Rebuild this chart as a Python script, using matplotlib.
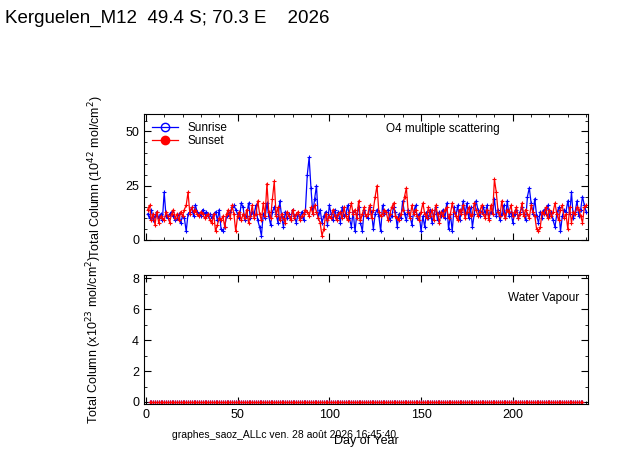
import numpy as np
import matplotlib.pyplot as plt
from matplotlib.lines import Line2D
from matplotlib.ticker import MultipleLocator

plt.rcParams['font.family'] = ['Liberation Sans', 'DejaVu Sans']

days = np.arange(1, 241)

sunrise_o4 = [
    12, 10, 14, 9, 11, 13, 10, 12, 9, 22, 11, 10, 12, 13, 11, 9, 10, 12, 8, 11,
    10, 4, 12, 13, 15, 11, 16, 13, 12, 11, 14, 12, 13, 11, 12, 10, 12, 13, 9, 14,
    5, 4, 6, 11, 12, 13, 15, 16, 14, 12, 10, 17, 15, 9, 11, 17, 10, 13, 12, 16,
    9, 6, 2, 12, 10, 17, 11, 7, 13, 15, 12, 8, 18, 11, 6, 13, 10, 12, 9, 14,
    11, 8, 12, 10, 13, 9, 14, 30, 38, 24, 12, 19, 25, 10, 14, 8, 11, 13, 7, 16,
    12, 9, 14, 10, 13, 8, 15, 11, 12, 16, 10, 6, 13, 4, 12, 15, 8, 4, 14, 11,
    10, 15, 13, 5, 12, 14, 11, 4, 16, 12, 13, 14, 9, 11, 15, 13, 6, 12, 10, 18,
    12, 9, 14, 11, 7, 13, 16, 10, 12, 4, 11, 6, 13, 10, 14, 8, 12, 15, 9, 13,
    11, 14, 10, 17, 5, 12, 4, 15, 11, 16, 9, 13, 18, 12, 17, 10, 15, 6, 12, 18,
    14, 11, 13, 15, 12, 16, 10, 13, 12, 19, 11, 14, 9, 12, 16, 10, 18, 11, 13, 8,
    12, 14, 10, 13, 15, 12, 9, 20, 24, 17, 12, 19, 11, 8, 13, 10, 14, 12, 16, 11,
    13, 9, 6, 12, 15, 4, 11, 14, 13, 18, 12, 22, 10, 13, 18, 11, 14, 20, 16, 13,
]
sunset_o4 = [
    14, 16, 9, 12, 7, 13, 8, 11, 10, 9, 13, 11, 8, 12, 14, 10, 12, 9, 13, 11,
    14, 16, 22, 12, 15, 13, 14, 12, 11, 13, 12, 10, 11, 12, 9, 8, 12, 4, 7, 10,
    9, 11, 6, 12, 14, 10, 16, 12, 4, 11, 13, 9, 12, 10, 14, 8, 11, 16, 10, 12,
    18, 12, 9, 17, 11, 26, 13, 10, 19, 27, 11, 15, 9, 12, 10, 8, 13, 11, 9, 14,
    10, 12, 13, 9, 11, 12, 14, 13, 11, 15, 12, 16, 13, 10, 8, 2, 5, 12, 9, 11,
    10, 14, 11, 9, 12, 13, 10, 15, 11, 9, 13, 17, 12, 14, 10, 18, 9, 12, 15, 11,
    12, 16, 10, 14, 20, 25, 13, 11, 12, 14, 13, 9, 12, 15, 17, 11, 10, 9, 12, 14,
    20, 24, 13, 10, 16, 12, 14, 11, 9, 13, 17, 12, 10, 15, 11, 14, 9, 16, 12, 8,
    13, 11, 14, 15, 10, 12, 17, 13, 11, 9, 14, 12, 16, 10, 13, 15, 11, 12, 17, 14,
    11, 13, 16, 12, 10, 14, 9, 16, 12, 28, 22, 13, 11, 18, 12, 10, 14, 13, 16, 11,
    13, 15, 10, 12, 17, 11, 14, 12, 10, 16, 13, 11, 5, 4, 6, 13, 12, 15, 10, 14,
    11, 13, 17, 12, 9, 14, 16, 10, 12, 5, 15, 8, 13, 12, 15, 14, 11, 8, 15, 16,
]
h2o_days = np.arange(2, 239)
sunrise_h2o = np.zeros(len(h2o_days))
sunset_h2o = np.zeros(len(h2o_days))

fig = plt.figure(figsize=(6.23, 4.55), dpi=100)
ax1 = fig.add_axes([144 / 623, 215 / 455, 444 / 623, 126 / 455])
ax2 = fig.add_axes([144 / 623, 51 / 455, 444 / 623, 129 / 455])

ax1.plot(days, sunrise_o4, color='blue', lw=0.9, marker='+', ms=3, mew=0.8)
ax1.plot(days, sunset_o4, color='red', lw=0.9, marker='+', ms=3, mew=0.8)
ax2.plot(h2o_days, sunrise_h2o, color='blue', lw=0.9, marker='+', ms=3, mew=0.8)
ax2.plot(h2o_days, sunset_h2o, color='red', lw=0.9, marker='+', ms=3, mew=0.8)

for ax in (ax1, ax2):
    ax.set_xlim(-1, 241)
    ax.xaxis.set_major_locator(MultipleLocator(50))
    ax.xaxis.set_minor_locator(MultipleLocator(10))
    ax.tick_params(which='both', direction='in', top=True, right=True, labelsize=9)
    ax.tick_params(which='major', length=5)
    ax.tick_params(which='minor', length=2.5)

ax1.set_ylim(0, 58)
ax1.yaxis.set_major_locator(MultipleLocator(25))
ax1.yaxis.set_minor_locator(MultipleLocator(5))
ax1.tick_params(labelbottom=False)
ax1.set_ylabel('Total Column (10$^{42}$ mol/cm$^2$)', fontsize=9, labelpad=14)
ax1.text(0.80, 0.88, 'O4 multiple scattering', transform=ax1.transAxes,
         ha='right', va='center', fontsize=8.5)

handles = [Line2D([], [], color='blue', lw=0.9, marker='o', mfc='none', ms=6),
           Line2D([], [], color='red', lw=0.9, marker='o', ms=6)]
ax1.legend(handles, ['Sunrise', 'Sunset'], loc='upper left', frameon=False,
           fontsize=8.5, handlelength=2.2, borderaxespad=0.3, labelspacing=0.1)

ax2.set_ylim(-0.13, 8.2)
ax2.yaxis.set_major_locator(MultipleLocator(2))
ax2.yaxis.set_minor_locator(MultipleLocator(1))
ax2.set_ylabel('Total Column (x10$^{23}$ mol/cm$^2$)', fontsize=9, labelpad=20)
ax2.set_xlabel('Day of Year', fontsize=9, labelpad=10)
ax2.text(0.98, 0.82, 'Water Vapour', transform=ax2.transAxes,
         ha='right', va='center', fontsize=8.5)

fig.text(5 / 623, 1 - 18 / 455, 'Kerguelen_M12  49.4 S; 70.3 E    2026',
         fontsize=13.5, va='center')
fig.text(172 / 623, 1 - 435 / 455, 'graphes_saoz_ALLc ven. 28 ao\u00fbt 2026 16:45:40',
         fontsize=7.5, va='center')

fig.savefig('out.png', dpi=100)
